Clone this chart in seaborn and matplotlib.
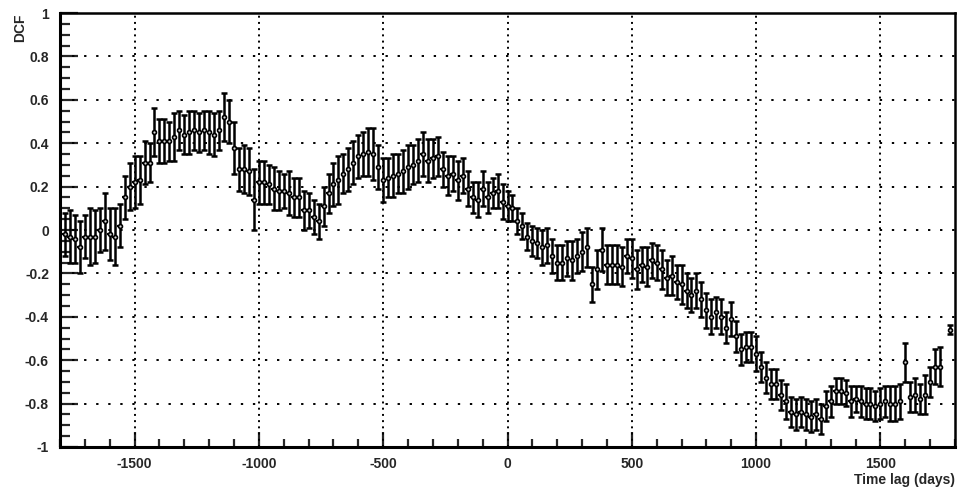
import numpy as np
import matplotlib
matplotlib.use("Agg")
import matplotlib.pyplot as plt
import seaborn as sns
import pandas as pd
from matplotlib.ticker import MultipleLocator, FixedLocator

# ---- data ----
lag_days = list(range(-1780, 1781, 20))

dcf = [
    -0.02, -0.03, -0.04, -0.08, -0.03, -0.03, -0.03, 0.00, 0.04, -0.02,   # -1780..-1600
    -0.03, 0.02, 0.15, 0.20, 0.22, 0.23, 0.31, 0.31, 0.45, 0.41,         # -1580..-1400
    0.41, 0.41, 0.43, 0.46, 0.44, 0.45, 0.46, 0.45, 0.46, 0.45,          # -1380..-1200
    0.44, 0.46, 0.52, 0.50, 0.38, 0.28, 0.28, 0.27, 0.14, 0.22,          # -1180..-1000
    0.22, 0.21, 0.19, 0.18, 0.18, 0.17, 0.15, 0.15, 0.09, 0.09,          # -980..-800
    0.06, 0.04, 0.11, 0.17, 0.21, 0.23, 0.26, 0.28, 0.31, 0.34,          # -780..-600
    0.35, 0.36, 0.35, 0.29, 0.23, 0.24, 0.25, 0.26, 0.27, 0.29,          # -580..-400
    0.30, 0.32, 0.35, 0.32, 0.33, 0.34, 0.28, 0.25, 0.26, 0.23,          # -380..-200
    0.25, 0.19, 0.15, 0.14, 0.19, 0.15, 0.17, 0.18, 0.13, 0.11,          # -180..0
    0.10, 0.04, 0.02, -0.03, -0.05, -0.06, -0.08, -0.07, -0.12, -0.15,   # 20..200
    -0.15, -0.13, -0.14, -0.12, -0.10, -0.08, -0.25, -0.18, -0.09, -0.16,  # 220..400
    -0.16, -0.16, -0.17, -0.12, -0.13, -0.18, -0.16, -0.17, -0.14, -0.15,  # 420..600
    -0.18, -0.22, -0.21, -0.24, -0.25, -0.28, -0.30, -0.28, -0.32, -0.37,  # 620..800
    -0.40, -0.38, -0.40, -0.45, -0.41, -0.49, -0.55, -0.54, -0.54, -0.57,  # 820..1000
    -0.63, -0.68, -0.71, -0.71, -0.76, -0.79, -0.84, -0.85, -0.84, -0.85,  # 1020..1200
    -0.86, -0.85, -0.87, -0.81, -0.79, -0.74, -0.74, -0.75, -0.79, -0.78,  # 1220..1400
    -0.79, -0.80, -0.80, -0.81, -0.80, -0.79, -0.80, -0.80, -0.79, -0.61,  # 1420..1600
    -0.77, -0.76, -0.78, -0.76, -0.70, -0.63, -0.63, np.nan, -0.46,        # 1620..1780
]

dcf_err = [
    0.10, 0.12, 0.11, 0.12, 0.10, 0.13, 0.12, 0.10, 0.13, 0.12,
    0.13, 0.10, 0.10, 0.11, 0.12, 0.11, 0.10, 0.09, 0.11, 0.10,
    0.10, 0.09, 0.11, 0.09, 0.09, 0.10, 0.09, 0.09, 0.09, 0.10,
    0.10, 0.09, 0.11, 0.10, 0.12, 0.10, 0.11, 0.11, 0.14, 0.10,
    0.10, 0.09, 0.10, 0.09, 0.08, 0.10, 0.09, 0.09, 0.09, 0.08,
    0.08, 0.08, 0.09, 0.09, 0.10, 0.11, 0.09, 0.10, 0.10, 0.10,
    0.10, 0.11, 0.12, 0.10, 0.10, 0.09, 0.10, 0.09, 0.10, 0.10,
    0.09, 0.10, 0.10, 0.10, 0.09, 0.09, 0.08, 0.09, 0.08, 0.09,
    0.08, 0.08, 0.07, 0.08, 0.08, 0.07, 0.07, 0.08, 0.08, 0.07,
    0.06, 0.06, 0.06, 0.06, 0.07, 0.07, 0.08, 0.08, 0.08, 0.08,
    0.08, 0.08, 0.09, 0.08, 0.09, 0.09, 0.08, 0.09, 0.10, 0.09,
    0.09, 0.09, 0.09, 0.08, 0.09, 0.09, 0.08, 0.09, 0.08, 0.08,
    0.09, 0.08, 0.09, 0.08, 0.09, 0.08, 0.08, 0.08, 0.08, 0.08,
    0.08, 0.07, 0.08, 0.07, 0.08, 0.07, 0.07, 0.07, 0.07, 0.08,
    0.07, 0.07, 0.07, 0.07, 0.07, 0.08, 0.07, 0.07, 0.07, 0.07,
    0.07, 0.07, 0.07, 0.07, 0.07, 0.06, 0.06, 0.06, 0.07, 0.06,
    0.07, 0.07, 0.07, 0.07, 0.07, 0.07, 0.08, 0.08, 0.08, 0.09,
    0.07, 0.08, 0.07, 0.09, 0.07, 0.08, 0.09, np.nan, 0.02,
]

lag_halfwidth = 10  # days (horizontal bin half-width)

x_ticks = [-1500, -1000, -500, 0, 500, 1000, 1500]
y_ticks = [-1, -0.8, -0.6, -0.4, -0.2, 0, 0.2, 0.4, 0.6, 0.8, 1]
y_tick_labels = ["-1", "-0.8", "-0.6", "-0.4", "-0.2", "0", "0.2", "0.4", "0.6", "0.8", "1"]
x_tick_labels = ["-1500", "-1000", "-500", "0", "500", "1000", "1500"]

df = pd.DataFrame({"lag": lag_days, "dcf": dcf, "err": dcf_err})

# ---- plotting ----
sns.set_theme(style="white")
plt.rcParams["font.family"] = ["Liberation Sans", "DejaVu Sans"]
plt.rcParams["font.weight"] = "bold"
plt.rcParams["axes.unicode_minus"] = False

fig = plt.figure(figsize=(9.63, 4.95), dpi=100)
ax = fig.add_axes([60 / 963, 1 - 447 / 495, (955 - 60) / 963, (447 - 13) / 495])

# grid (dotted, at major ticks)
for xv in x_ticks:
    ax.axvline(xv, color="black", lw=1.4, ls=(0, (1, 2.2)), zorder=1)
for yv in y_ticks[1:-1]:
    ax.axhline(yv, color="black", lw=1.4, ls=(0, (1.2, 5)), zorder=1)

# vertical error bars with caps
ax.errorbar(df["lag"], df["dcf"], yerr=df["err"], fmt="none", ecolor="black",
            elinewidth=1.8, capsize=2.4, capthick=1.8, zorder=3)
# horizontal bars (no caps)
ax.errorbar(df["lag"], df["dcf"], xerr=lag_halfwidth, fmt="none", ecolor="black",
            elinewidth=1.6, capsize=0, zorder=3)
sns.scatterplot(data=df, x="lag", y="dcf", ax=ax, marker="o", s=8,
                facecolor="#d8d8d8", edgecolor="black", linewidth=1.2, zorder=4,
                legend=False)

ax.set_xlim(-1800, 1800)
ax.set_ylim(-1, 1)
ax.set_xlabel("")
ax.set_ylabel("")

ax.xaxis.set_major_locator(FixedLocator(x_ticks))
ax.xaxis.set_minor_locator(MultipleLocator(100))
ax.yaxis.set_major_locator(FixedLocator(y_ticks))
ax.yaxis.set_minor_locator(MultipleLocator(0.05))
ax.set_yticklabels(y_tick_labels)
ax.set_xticklabels(x_tick_labels)

ax.tick_params(axis="x", which="major", direction="in", length=11, width=1.6,
               labelsize=10, pad=7, bottom=True, top=False)
ax.tick_params(axis="x", which="minor", direction="in", length=6, width=1.6,
               bottom=True, top=False)
ax.tick_params(axis="y", which="major", direction="in", length=13, width=1.6,
               labelsize=10, pad=8, left=True, right=False)
ax.tick_params(axis="y", which="minor", direction="in", length=7, width=1.6,
               left=True, right=False)
for lab in ax.get_xticklabels() + ax.get_yticklabels():
    lab.set_fontweight("bold")

for side in ["left", "bottom"]:
    ax.spines[side].set_linewidth(2.2)
for side in ["top", "right"]:
    ax.spines[side].set_linewidth(1.8)
for s in ax.spines.values():
    s.set_color("black")
    s.set_visible(True)

fig.text(20 / 963, 1 - 13 / 495, "DCF", rotation=90, ha="center", va="top",
         fontsize=10, fontweight="bold")
fig.text(955 / 963, 1 - 480 / 495, "Time lag (days)", ha="right", va="center",
         fontsize=10, fontweight="bold")

fig.savefig("out.png", dpi=100, facecolor="white")
